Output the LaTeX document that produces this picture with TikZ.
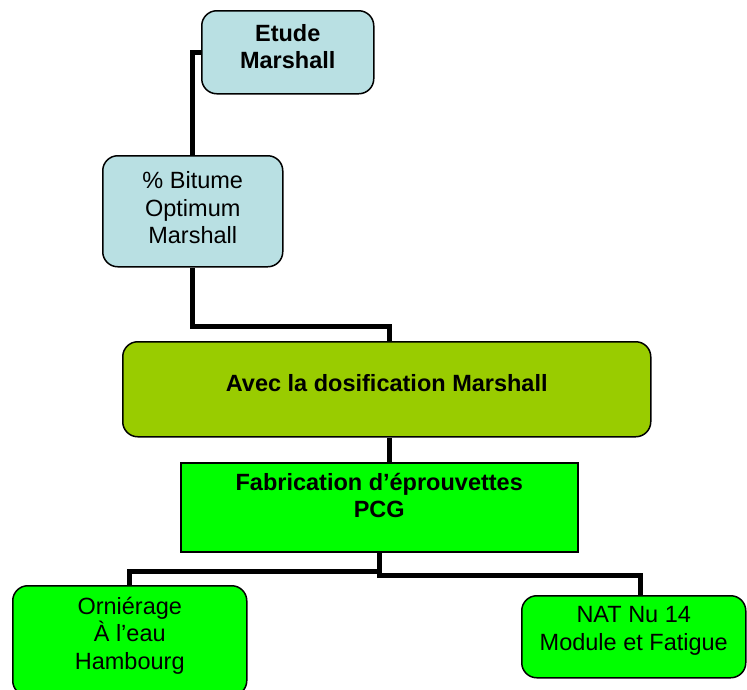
\documentclass[tikz,border=0pt]{standalone}
\usepackage{fontspec}
\setmainfont{Liberation Sans}
\usetikzlibrary{positioning}

\definecolor{etudeblue}{RGB}{185,224,227}
\definecolor{dosegreen}{RGB}{153,204,0}
\definecolor{pcggreen}{RGB}{0,255,0}

\tikzset{
	box/.style={draw, rectangle, line width=1.5pt, anchor=north west, inner sep=0pt},
	roundbox/.style={box, rounded corners=15pt},
	boxtext/.style={align=center, font=\fontsize{23.5}{27.5}\selectfont},
	boldtext/.style={boxtext, font=\fontsize{23.5}{27.5}\selectfont\bfseries},
	link/.style={line width=5pt}
}

\begin{document}
\begin{tikzpicture}[x=1pt, y=-1pt]
		\useasboundingbox (0, 0) rectangle (747, 689);
		\node[roundbox, fill=etudeblue, minimum width=172pt, minimum height=83pt, label={[boldtext, yshift=5.5pt] center:Etude\\Marshall}] (etude) at (201, 10) {};
		\node[roundbox, fill=etudeblue, minimum width=180pt, minimum height=111pt, label={[boxtext, yshift=3.5pt] center:\% Bitume\\Optimum\\Marshall}] (bitume) at (102, 155) {};
		\node[roundbox, fill=dosegreen, minimum width=528pt, minimum height=95pt, label={[boldtext, yshift=6.5pt] center:Avec la dosification Marshall}] (avec) at (122, 341) {};
		\node[box, fill=pcggreen, minimum width=397pt, minimum height=89pt, label={[boldtext, yshift=12pt] center:Fabrication d’éprouvettes\\PCG}] (fab) at (180, 462) {};
		\node[roundbox, fill=pcggreen, minimum width=234pt, minimum height=110pt, label={[boxtext, yshift=5pt] center:Orniérage\\À l’eau\\Hambourg}] (orn) at (12, 585) {};
		\node[roundbox, fill=pcggreen, minimum width=224pt, minimum height=82pt, label={[boxtext, yshift=6pt] center:NAT Nu 14\\Module et Fatigue}] (nat) at (521, 595) {};
		\draw[link] (etude.west) -| (bitume.north);
		\draw[link] (bitume.south) -- ++(0, 59) -| ([xshift=3pt]avec.north);
		\draw[link] ([xshift=3pt]avec.south) -- ([xshift=3pt]avec.south |- fab.north);
		\draw[link] (fab.south) -- ++(0, 19) coordinate (split) -| (orn.north);
		\draw[link] (split) -- ++(0, 4) -| ([xshift=7pt]nat.north);
	\end{tikzpicture}
\end{document}
